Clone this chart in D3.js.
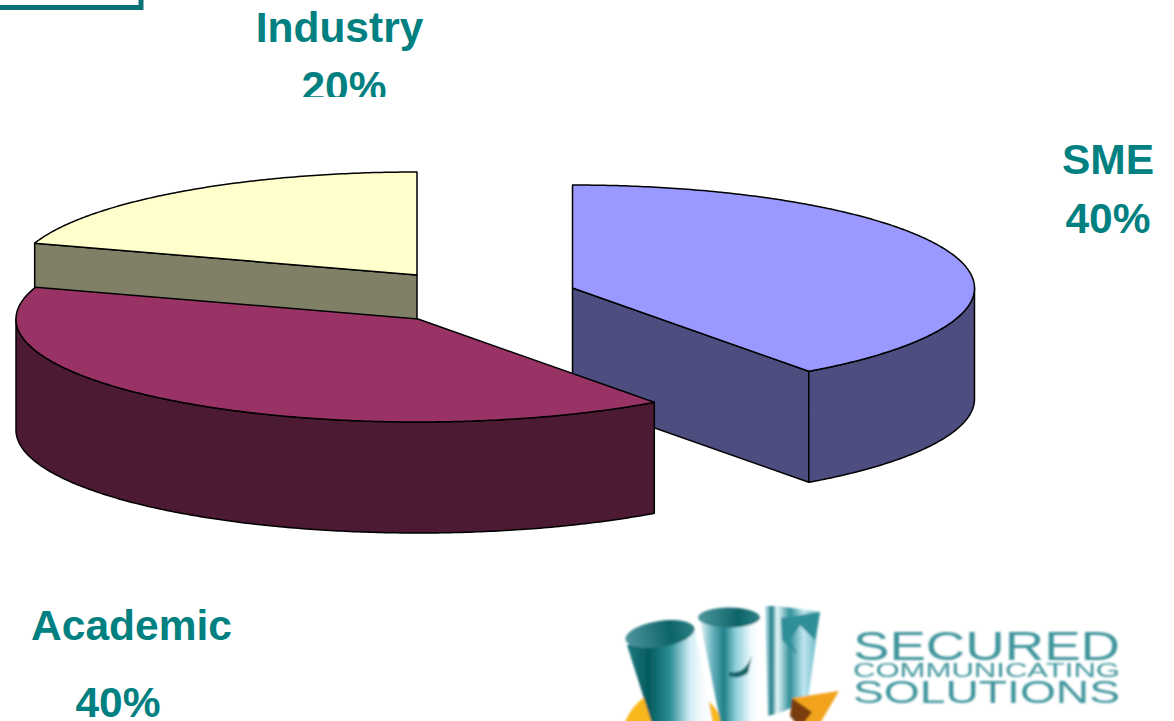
<!DOCTYPE html>
<html>
<head>
<meta charset="utf-8">
<script src="https://cdn.jsdelivr.net/npm/d3@7"></script>
<style>
  html, body { margin: 0; padding: 0; background: #fff; overflow: hidden; }
  text { font-family: "Liberation Sans", Arial, sans-serif; }
</style>
</head>
<body>
<div id="chart"></div>
<script>
// the values
var categories = ["SME", "Academic", "Industry"];
var shares = [40, 40, 20];
var topColors = ["#9999ff", "#993366", "#ffffcc"];
var sideColors = ["#4d4d80", "#4d1a33", "#808066"];

// where each exploded slice sits on the page
var centers = [[572.5, 288], [418, 319], [417, 275]];
var labelPos = [[1108, 174, 1108, 233], [131.5, 640, 118, 717], [339.5, 42, 344, 101]];
var drawOrder = [0, 2, 1];

var width = 1174, height = 721, depth = 111;

var svg = d3.select("#chart").append("svg")
    .attr("width", width)
    .attr("height", height)
    .style("display", "block");

var defs = svg.append("defs");

// unit circle -> flattened ellipse of the tilted pie
var x = d3.scaleLinear().domain([-1, 1]).range([-402, 402]);
var y = d3.scaleLinear().domain([-1, 1]).range([-103, 103]);

var pie = d3.pie().sort(null).value(function(d) { return d; });
var slices = pie(shares);

var line = d3.line();

function rim(a, dy) {
  return [x(Math.sin(a)), y(-Math.cos(a)) + (dy || 0)];
}

function arcPoints(a0, a1, dy) {
  var n = Math.max(2, Math.ceil((a1 - a0) / 0.01));
  return d3.range(n + 1).map(function(i) {
    return rim(a0 + (a1 - a0) * i / n, dy);
  });
}

var pieG = svg.append("g");

drawOrder.forEach(function(i) {
  var s = slices[i];
  var g = pieG.append("g")
      .attr("transform", "translate(" + centers[i][0] + "," + centers[i][1] + ")")
      .attr("stroke", "#000")
      .attr("stroke-width", 1.5)
      .attr("stroke-linejoin", "round");

  // radial walls that face the viewer
  [[s.startAngle, -Math.sin(s.startAngle)], [s.endAngle, Math.sin(s.endAngle)]].forEach(function(f) {
    if (f[1] > 0.001) {
      g.append("path")
          .attr("fill", sideColors[i])
          .attr("d", line([[0, 0], rim(f[0]), rim(f[0], depth), [0, depth]]) + "Z");
    }
  });

  // outer wall, only the front half of the ellipse is seen
  var a0 = Math.max(s.startAngle, Math.PI / 2);
  var a1 = Math.min(s.endAngle, Math.PI * 1.5);
  if (a1 > a0) {
    var pts = arcPoints(a0, a1, 0).concat(arcPoints(a0, a1, depth).reverse());
    g.append("path")
        .attr("fill", sideColors[i])
        .attr("d", line(pts) + "Z");
  }

  // top face
  g.append("path")
      .attr("fill", topColors[i])
      .attr("d", line([[0, 0]].concat(arcPoints(s.startAngle, s.endAngle, 0))) + "Z");
});

// clip for the cut off "20%"
defs.append("clipPath").attr("id", "labelClip")
  .append("rect").attr("x", 0).attr("y", 0).attr("width", width).attr("height", 97);

categories.forEach(function(c, i) {
  var g = svg.append("g")
      .attr("fill", "#008080")
      .attr("font-size", 42.5)
      .attr("font-weight", "bold")
      .attr("text-anchor", "middle");
  if (c == "Industry") g.attr("clip-path", "url(#labelClip)");
  g.append("text").attr("x", labelPos[i][0]).attr("y", labelPos[i][1]).text(c);
  g.append("text").attr("x", labelPos[i][2]).attr("y", labelPos[i][3]).text(shares[i] + "%");
});

// frame corner in the top left
svg.append("path")
    .attr("d", "M-5,7.5H141V-5")
    .attr("fill", "none")
    .attr("stroke", "#0b7378")
    .attr("stroke-width", 5);

// logo
defs.append("filter").attr("id", "soft")
    .attr("x", "-5%").attr("y", "-5%").attr("width", "110%").attr("height", "110%")
  .append("feGaussianBlur").attr("stdDeviation", 0.8);

function addGradient(id, stops) {
  var g = defs.append("linearGradient").attr("id", id);
  stops.forEach(function(d) {
    g.append("stop").attr("offset", d[0]).attr("stop-color", d[1]);
  });
}
addGradient("cyl1", [[0, "#1f7a80"], [0.25, "#045a5c"], [0.5, "#2f8f98"], [0.72, "#cfeef6"], [0.85, "#f4fbfd"], [1, "#ffffff"]]);
addGradient("cyl2", [[0, "#e6f6fa"], [0.2, "#6cb4c0"], [0.4, "#1f8087"], [0.6, "#8fd0dc"], [0.85, "#eefafd"], [1, "#ffffff"]]);
addGradient("cyl3", [[0, "#cfeef6"], [0.12, "#1c7c84"], [0.22, "#e8f8fc"], [0.45, "#2f8f98"], [0.7, "#bfe7f0"], [1, "#5fb0bc"]]);
addGradient("cap", [[0, "#4f979f"], [0.65, "#0c6468"], [1, "#2f8187"]]);

var logo = svg.append("g").attr("class", "logo").attr("filter", "url(#soft)");
logo.append("circle").attr("cx", 674).attr("cy", 740).attr("r", 52).attr("fill", "#f8b81c");
logo.append("path").attr("d", "M627,645L654,730H714L695,630Z").attr("fill", "url(#cyl1)");
logo.append("ellipse").attr("cx", 660).attr("cy", 634).attr("rx", 35).attr("ry", 13)
    .attr("transform", "rotate(-9 660 634)").attr("fill", "url(#cap)");
logo.append("path").attr("d", "M700,620L722,730H756L760,618Z").attr("fill", "url(#cyl2)");
logo.append("ellipse").attr("cx", 729).attr("cy", 617.5).attr("rx", 31).attr("ry", 10).attr("fill", "url(#cap)");
logo.append("path").attr("d", "M729,672Q745,675 752,655L748,673Q738,680 729,676Z").attr("fill", "#14666c");
logo.append("path").attr("d", "M765,606H778L820,612L808,700L782,712L768,716Z").attr("fill", "url(#cyl3)");
logo.append("path").attr("d", "M781,618L820,612L815,640L800,625L790,640L798,655L782,640Z").attr("fill", "#2f8f98");
logo.append("path").attr("d", "M792,698L839,691L815,732L800,722Z").attr("fill", "#f2a31c");
logo.append("path").attr("d", "M792,698L812,712L800,728L790,716Z").attr("fill", "#7a3e0c");

var logoText = [["SECURED", 660, 41], ["COMMUNICATING", 677, 20], ["SOLUTIONS", 703, 32]];
logoText.forEach(function(d) {
  logo.append("text")
      .attr("x", 853)
      .attr("y", d[1])
      .attr("font-size", d[2])
      .attr("textLength", 267)
      .attr("lengthAdjust", "spacingAndGlyphs")
      .attr("fill", "#3f959c")
      .text(d[0]);
});
</script>
</body>
</html>
